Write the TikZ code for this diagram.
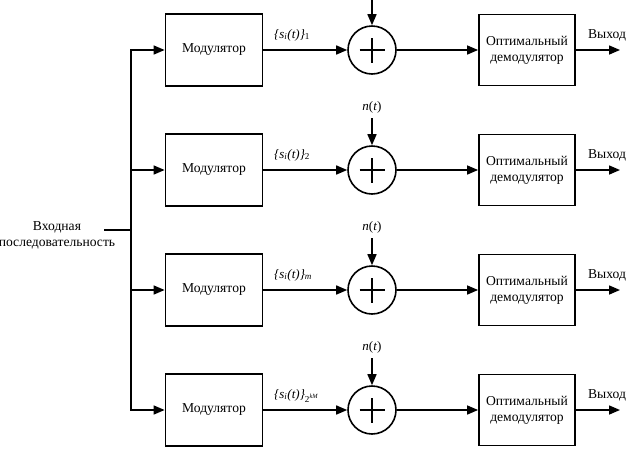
\documentclass[tikz,border=0pt]{standalone}
\usepackage{fontspec}
\setmainfont{Liberation Serif}
\usetikzlibrary{arrows.meta}
\begin{document}
\begin{tikzpicture}[x=1pt,y=-1pt,
  blk/.style={draw,line width=1.8pt,minimum width=97pt,minimum height=72pt,inner sep=1pt,align=center,font=\fontsize{13.6}{16}\selectfont},
  demod/.style={blk,minimum width=96pt,minimum height=71pt},
  summ/.style={draw,circle,line width=1.6pt,minimum size=48pt,inner sep=0pt},
  wire/.style={line width=1.5pt},
  arr/.style={wire,-{Triangle[length=11pt,width=9pt]}},
  lbl/.style={font=\fontsize{13.6}{16}\selectfont,inner sep=1pt},
  sig/.style={font=\fontsize{13}{15}\selectfont\itshape,inner sep=0pt,anchor=base west}
]
\useasboundingbox (0,0) rectangle (626,448);

\node[lbl,align=center] (inlbl) at (57,235) {Входная\\последовательность};
\coordinate (in) at (104,230);
\coordinate (j) at (131,230);
\draw[wire] (in) -- (j);

\foreach \i/\y in {1/50,2/170,3/290,4/410}{
  \node[blk] (m\i) at (214,\y) {Модулятор};
  \node[summ] (s\i) at (372,\y) {};
  \draw[line width=1.5pt] ([xshift=-12.5pt]s\i.center) -- ([xshift=12.5pt]s\i.center);
  \draw[line width=1.5pt] ([yshift=-12.5pt]s\i.center) -- ([yshift=12.5pt]s\i.center);
  \node[demod] (d\i) at (527,\y) {Оптимальный\\демодулятор};
  \coordinate (o\i) at (620,\y);
  \node[lbl] (out\i) at (607,\y-15) {Выход};
  \draw[arr] (j) |- (m\i.west);
  \draw[arr] (m\i.east) -- (s\i.west);
  \draw[arr] (s\i.east) -- (d\i.west);
  \draw[arr] (d\i.east) -- (o\i);
}

\coordinate (n1) at (372,0);
\draw[arr] (n1) -- (s1.north);
\foreach \i/\y in {2/170,3/290,4/410}{
  \node[lbl,font=\fontsize{13}{15}\selectfont] (nl\i) at (372,\y-63) {\textit{n}(\textit{t})};
  \draw[arr] (nl\i.south) ++(0,4) -- (s\i.north);
}

\node[sig] (l1) at (274,38) {\{\textit{s}\textsubscript{\textit{i}}(\textit{t})\}\textsubscript{\upshape 1}};
\node[sig] (l2) at (274,158) {\{\textit{s}\textsubscript{\textit{i}}(\textit{t})\}\textsubscript{\upshape 2}};
\node[sig] (l3) at (274,278) {\{\textit{s}\textsubscript{\textit{i}}(\textit{t})\}\textsubscript{\textit{m}}};
\node[sig] (l4) at (274,398) {\{\textit{s}\textsubscript{\textit{i}}(\textit{t})\}\textsubscript{\upshape 2\textsuperscript{\itshape kM}}};
\end{tikzpicture}
\end{document}
